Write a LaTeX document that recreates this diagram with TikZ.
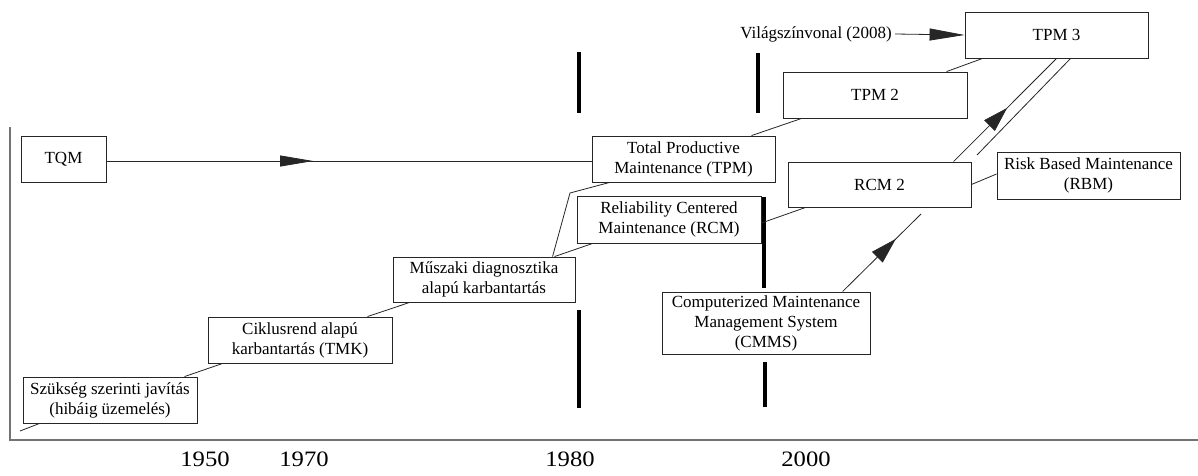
\documentclass[tikz,border=0pt]{standalone}
\usepackage{fontspec}
\setmainfont{Liberation Serif}
\usetikzlibrary{arrows.meta,decorations.markings}
\begin{document}
\begin{tikzpicture}[x=1pt,y=-1pt,
  box/.style={draw=black!85, line width=0.9pt, inner sep=0pt, align=center,
    font=\fontsize{17}{20}\selectfont},
  conn/.style={draw=black!85, line width=0.8pt},
  bar/.style={line width=3.6pt, black},
  axis/.style={draw=black!55, line width=1.6pt},
  yearlbl/.style={font=\fontsize{22}{26}\selectfont, inner sep=0pt},
  midarrow/.style 2 args={postaction={decorate}, decoration={markings,
    mark=at position #1 with {\arrow{#2}}}},
  bighead/.style={Triangle[length=33pt,width=11pt]},
]
\useasboundingbox (0,0) rectangle (1198,475);
\fill[white] (0,0) rectangle (1198,475);

% axes
\draw[axis] (10,127) -- (10,440) -- (1198,440);

% year labels
\node[yearlbl] (y1950) at (205,459) {\scalebox{1.12}[1]{1950}};
\node[yearlbl] (y1970) at (304,459) {\scalebox{1.12}[1]{1970}};
\node[yearlbl] (y1980) at (570,459) {\scalebox{1.12}[1]{1980}};
\node[yearlbl] (y2000) at (806,459) {\scalebox{1.12}[1]{2000}};

% vertical bars
\draw[bar] (579,52) -- (579,113);
\draw[bar] (579,310) -- (579,408);
\draw[bar] (758,53) -- (758,113);
\draw[bar] (764,197) -- (764,288);
\draw[bar] (765,362) -- (765,407);

% boxes
\node[box, minimum width=85pt, minimum height=46pt] (tqm) at (63.5,159) {TQM};
\node[box, minimum width=174pt, minimum height=46pt] (szuk) at (110,400) {Szükség szerinti javítás\\ (hibáig üzemelés)};
\node[box, minimum width=184pt, minimum height=46pt] (cikl) at (300,340) {Ciklusrend alapú\\ karbantartás (TMK)};
\node[box, minimum width=182pt, minimum height=45pt] (musz) at (484,279.5) {Műszaki diagnosztika\\ alapú karbantartás};
\node[box, minimum width=183pt, minimum height=46pt] (tpm) at (683.5,159) {Total Productive\\ Maintenance (TPM)};
\node[box, minimum width=184pt, minimum height=47pt] (rcm) at (669,219.5) {Reliability Centered\\ Maintenance (RCM)};
\node[box, minimum width=184pt, minimum height=46pt] (tpm2) at (875,95) {TPM 2};
\node[box, minimum width=183pt, minimum height=46pt] (tpm3) at (1056.5,35) {TPM 3};
\node[box, minimum width=183pt, minimum height=45pt] (rcm2) at (879.5,184.5) {RCM 2};
\node[box, minimum width=183pt, minimum height=47pt] (rbm) at (1088.5,175.5) {Risk Based Maintenance\\ (RBM)};
\node[box, minimum width=208pt, minimum height=62pt] (cmms) at (766,323) {Computerized Maintenance\\ Management System\\ (CMMS)};

\node[font=\fontsize{17}{20}\selectfont, inner sep=0pt, anchor=east] (vilag) at (892,34) {Világszínvonal (2008)};

% free ends
\coordinate (start) at (20,431);
\coordinate (bend) at (570,193);
\coordinate (pend) at (977,155);
\coordinate (cmmsend) at (921,214);

% connectors
\draw[conn] (start) -- ([xshift=17pt]szuk.south west);
\draw[conn] ([xshift=162pt]szuk.north west) -- ([xshift=15pt]cikl.south west);
\draw[conn] ([xshift=160pt]cikl.north west) -- ([xshift=17pt]musz.south west);
\draw[conn] ([xshift=160pt]musz.north west) -- (bend) -- ([xshift=18pt]tpm.south west);
\draw[conn] ([xshift=162pt]musz.north west) -- ([xshift=16pt]rcm.south west);
\draw[conn, midarrow={0.426}{Triangle[length=33pt,width=11pt]}] ([yshift=-2pt]tqm.east) -- ([yshift=-2pt]tpm.west);
\draw[conn] ([xshift=160pt]tpm.north west) -- ([xshift=19pt]tpm2.south west);
\draw[conn] ([yshift=-3.5pt]rcm.east) -- ([xshift=18pt]rcm2.south west);
\draw[conn] ([xshift=164pt]tpm2.north west) -- ([xshift=18pt]tpm3.south west);
\draw[conn, midarrow={0.52}{Triangle[length=25pt,width=15pt]}] ([xshift=166pt]rcm2.north west) -- ([xshift=92pt]tpm3.south west);
\draw[conn] (pend) -- ([xshift=106pt]tpm3.south west);
\draw[conn] (rcm2.east) -- ([yshift=1.5pt]rbm.west);
\draw[conn, midarrow={0.68}{Triangle[length=26pt,width=15pt]}] ([xshift=181pt]cmms.north west) -- (cmmsend);
\draw[conn, -{Triangle[length=35pt,width=12pt]}] ([xshift=3pt]vilag.east) -- (tpm3.west);
\end{tikzpicture}
\end{document}
